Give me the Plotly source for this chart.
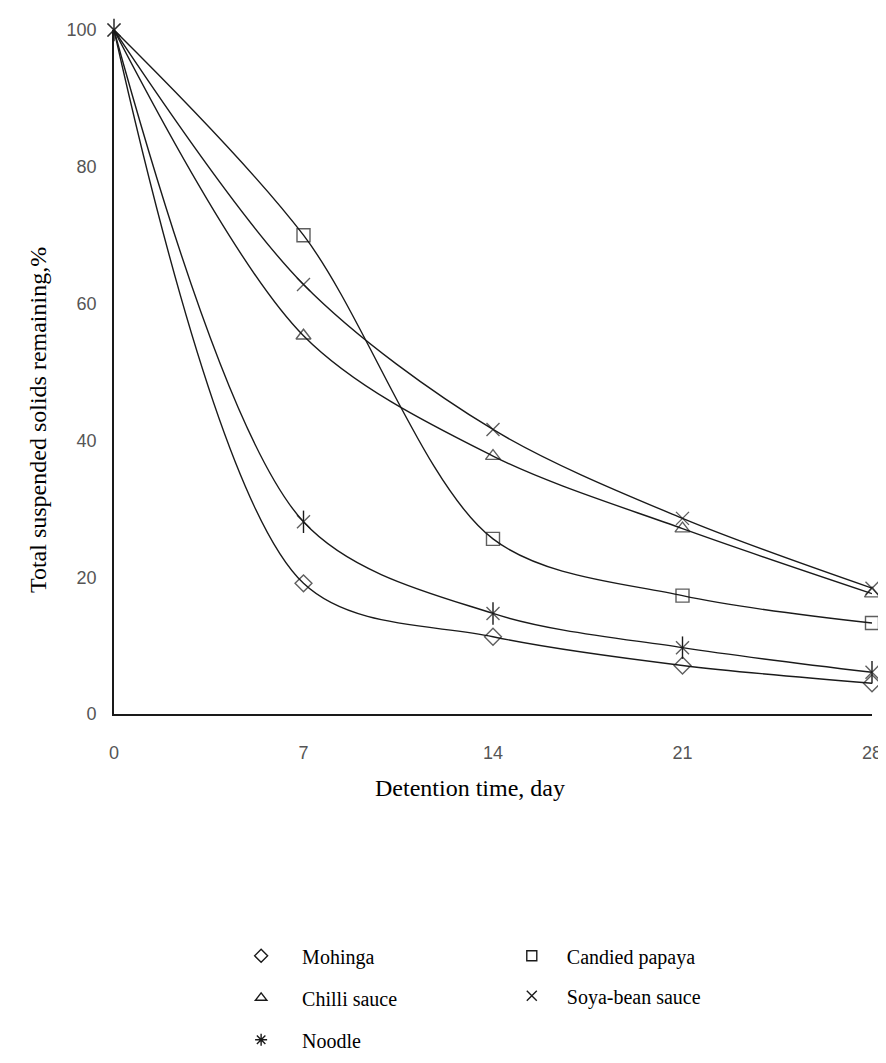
import plotly.graph_objects as go

days = [0, 7, 14, 21, 28]
mohinga = [100, 19.1, 11.3, 7.1, 4.5]
chilli = [100, 55.3, 37.7, 27.1, 17.6]
noodle = [100, 28.1, 14.7, 9.7, 6.1]
papaya = [100, 70.0, 25.6, 17.3, 13.3]
soya = [100, 62.8, 41.6, 28.6, 18.4]

y_ticks = [0, 20, 40, 60, 80, 100]
x_ticks = [0, 7, 14, 21, 28]

INK = "#1a1a1a"
SERIF = "Liberation Serif, Times New Roman, serif"
SANS = "Liberation Sans, Arial, sans-serif"
MS = 13

fig = go.Figure()

def curve(y, symbol, sizes, name):
    fig.add_trace(go.Scatter(
        x=days, y=y, mode="lines+markers", name=name, showlegend=False,
        line=dict(color=INK, width=1.4, shape="spline", smoothing=0.9),
        marker=dict(symbol=symbol, size=sizes, color=INK, line=dict(color=INK, width=1.4)),
        cliponaxis=False))

hide0 = [0, MS, MS, MS, MS]
curve(papaya, "square-open", hide0, "Candied papaya")
curve(soya, "x-thin-open", [MS] * 5, "Soya-bean sauce")
curve(chilli, "triangle-up-open", hide0, "Chilli sauce")
curve(noodle, "x-thin-open", [MS] * 5, "Noodle")
curve(mohinga, "diamond-open", hide0, "Mohinga")
# vertical arm of noodle asterisk
fig.add_trace(go.Scatter(x=days, y=noodle, mode="markers", showlegend=False,
                         marker=dict(symbol="line-ns-open", size=MS + 3, color=INK,
                                     line=dict(color=INK, width=1.4)),
                         cliponaxis=False))

def leg(name, symbol, legend, group):
    fig.add_trace(go.Scatter(x=[None], y=[None], mode="markers", name=name,
                             legend=legend, legendgroup=group,
                             marker=dict(symbol=symbol, size=10, color=INK,
                                         line=dict(color=INK, width=1.4))))

leg("Mohinga", "diamond-open", "legend", "a")
leg("Chilli sauce", "triangle-up-open", "legend", "b")
leg("Noodle", "asterisk-open", "legend", "c")
leg("Candied papaya", "square-open", "legend2", "d")
leg("Soya-bean sauce", "x-thin-open", "legend2", "e")

legstyle = dict(font=dict(family=SERIF, size=20, color="#000"), bgcolor="rgba(0,0,0,0)",
                borderwidth=0, traceorder="grouped", xanchor="left", yanchor="top")

fig.update_layout(
    width=886, height=1063, autosize=False,
    paper_bgcolor="white", plot_bgcolor="white",
    margin=dict(l=106, r=14, t=22, b=341),
    xaxis=dict(range=[0, 28], tickvals=x_ticks, showgrid=False, zeroline=False,
               showline=True, linecolor=INK, linewidth=1.6, ticks="",
               tickfont=dict(family=SANS, size=18, color="#555"), ticklabelstandoff=22),
    yaxis=dict(range=[0, 100], tickvals=y_ticks, showgrid=False, zeroline=False,
               showline=True, linecolor=INK, linewidth=1.6, ticks="",
               tickfont=dict(family=SANS, size=18, color="#555"), ticklabelstandoff=12),
    legend=dict(x=0.14, y=-0.325, itemwidth=72, tracegroupgap=13, **legstyle),
    legend2=dict(x=0.505, y=-0.325, itemwidth=60, tracegroupgap=11, **legstyle),
    annotations=[
        dict(text="Detention time, day", xref="paper", yref="paper", x=0.47, y=-0.108,
             xanchor="center", yanchor="middle", showarrow=False,
             font=dict(family=SERIF, size=24, color="#000")),
        dict(text="Total suspended solids remaining,%", xref="paper", yref="paper",
             x=-0.1,  y=0.43, textangle=-90, xanchor="center", yanchor="middle",
             showarrow=False, font=dict(family=SERIF, size=24, color="#000")),
    ],
)

fig.write_html("out.html")
